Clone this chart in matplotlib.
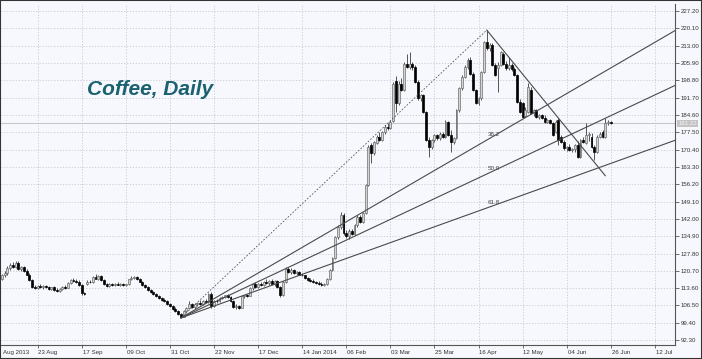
import matplotlib
matplotlib.use("Agg")
import matplotlib.pyplot as plt
from matplotlib.patches import Rectangle
from matplotlib.transforms import blended_transform_factory

plt.rcParams['font.family'] = ['Liberation Sans', 'DejaVu Sans']

# daily OHLC, Aug 2013 - 26 Jun 2014
opens = [
    117.5, 118.8, 119.8, 121.8, 123.0, 122.4, 124.0, 121.5, 122.2, 120.8,
    119.2, 117.0, 114.2, 113.8, 114.4, 114.0, 114.5, 114.0, 113.3, 113.9,
    112.9, 112.6, 113.4, 114.2, 113.8, 115.8, 117.0, 116.6, 116.2, 115.0,
    111.6, 115.5, 116.3, 116.0, 118.0, 117.5, 118.4, 117.0, 115.3, 114.6,
    115.2, 114.9, 115.5, 115.0, 115.3, 114.8, 115.2, 117.2, 117.8, 118.2,
    117.4, 116.3, 114.9, 114.1, 113.0, 112.0, 111.2, 110.2, 109.6, 108.8,
    108.2, 107.2, 106.4, 105.2, 104.3, 103.0, 101.9, 104.4, 105.6, 107.2,
    105.8, 107.0, 107.6, 107.2, 108.4, 108.0, 111.2, 106.2, 108.4, 108.2,
    109.6, 109.8, 110.6, 110.0, 108.2, 106.0, 106.4, 105.6, 110.2, 110.6,
    110.4, 113.6, 115.2, 114.2, 115.4, 114.8, 116.0, 115.8, 116.6, 115.2,
    116.4, 114.0, 110.8, 116.2, 121.6, 120.4, 121.2, 119.8, 120.2, 119.2,
    118.8, 117.8, 117.0, 116.6, 116.2, 115.8, 115.4, 115.0, 115.2, 117.4,
    121.0, 125.8, 134.4, 138.8, 143.8, 136.2, 134.8, 137.2, 136.0, 139.4,
    142.9, 140.9, 144.3, 155.9, 172.3, 168.9, 173.2, 175.7, 174.4, 177.6,
    179.8, 179.2, 182.0, 198.6, 189.5, 197.5, 195.0, 205.6, 204.4, 205.6,
    204.2, 198.2, 191.4, 192.6, 185.9, 174.3, 171.6, 174.3, 176.2, 175.0,
    177.0, 175.6, 181.6, 176.4, 173.4, 175.0, 186.6, 195.5, 200.3, 204.4,
    207.1, 201.6, 194.8, 189.5, 191.4, 202.3, 214.6, 212.0, 213.3, 205.1,
    203.8, 205.0, 209.8, 205.7, 203.8, 205.0, 203.4, 201.0, 190.1, 189.4,
    184.0, 186.0, 194.8, 185.3, 186.6, 183.9, 184.6, 183.2, 181.8, 182.5,
    181.2, 177.8, 182.5, 175.7, 173.6, 170.9, 171.6, 170.3, 170.8, 172.3,
    167.5, 174.3, 173.0, 176.4, 175.7, 171.6, 169.5, 175.7, 177.7, 175.7,
    181.2, 181.8,
]
highs = [
    119.5, 120.5, 122.5, 123.8, 124.5, 124.8, 124.6, 122.8, 122.8, 121.5,
    119.8, 117.5, 115.0, 114.8, 115.2, 114.8, 115.0, 114.6, 114.2, 114.4,
    113.5, 113.8, 114.6, 114.8, 116.2, 117.5, 117.8, 117.2, 116.8, 115.4,
    112.0, 116.8, 117.0, 118.5, 119.6, 118.8, 118.8, 117.4, 115.8, 115.6,
    115.8, 115.9, 116.0, 115.6, 115.8, 115.5, 117.5, 118.4, 118.6, 118.5,
    117.8, 116.6, 115.3, 114.5, 113.4, 112.5, 111.6, 110.6, 110.0, 109.4,
    108.6, 107.6, 106.8, 105.8, 104.8, 103.4, 104.8, 106.0, 108.2, 107.6,
    107.4, 108.0, 108.6, 108.8, 109.2, 111.6, 112.0, 108.8, 109.0, 110.0,
    110.4, 111.0, 111.2, 110.4, 108.6, 107.0, 106.8, 110.6, 111.0, 111.4,
    114.0, 115.8, 116.0, 115.8, 116.2, 116.4, 117.4, 117.0, 117.2, 116.8,
    116.8, 114.4, 116.6, 122.2, 122.4, 121.8, 121.6, 120.6, 120.8, 119.8,
    119.2, 118.2, 117.8, 117.2, 116.6, 116.4, 116.0, 115.6, 117.8, 121.6,
    126.2, 134.8, 139.5, 144.8, 144.6, 137.6, 137.8, 138.0, 139.8, 143.4,
    143.6, 144.8, 156.4, 172.2, 173.0, 174.0, 176.4, 177.6, 178.2, 180.4,
    181.2, 182.6, 198.0, 200.4, 198.5, 199.8, 206.2, 209.8, 210.5, 206.4,
    205.0, 198.8, 193.2, 193.4, 186.4, 175.6, 174.8, 176.8, 177.0, 177.6,
    177.8, 182.4, 182.2, 178.6, 175.6, 187.0, 196.0, 200.8, 205.0, 207.8,
    208.4, 202.2, 195.4, 192.0, 202.8, 215.0, 219.4, 214.0, 214.0, 206.0,
    206.2, 211.0, 210.4, 206.6, 208.5, 206.0, 204.4, 201.6, 191.0, 190.0,
    187.8, 197.6, 196.0, 187.2, 187.2, 185.2, 185.0, 184.4, 183.0, 183.0,
    181.8, 182.4, 183.2, 176.4, 174.2, 172.0, 172.8, 171.2, 172.6, 173.8,
    174.8, 175.4, 181.2, 177.6, 177.4, 172.4, 176.2, 177.6, 178.4, 183.2,
    182.6, 182.2,
]
lows = [
    116.8, 118.0, 119.2, 121.0, 122.0, 121.8, 121.0, 120.5, 120.2, 118.8,
    116.5, 113.8, 113.2, 113.2, 113.6, 113.4, 113.8, 113.0, 112.8, 112.6,
    112.0, 112.2, 113.0, 113.4, 113.5, 115.5, 116.2, 115.8, 114.5, 111.0,
    111.0, 115.0, 115.6, 115.8, 117.2, 117.0, 116.6, 115.0, 114.2, 114.2,
    114.6, 114.5, 114.8, 114.4, 114.6, 114.3, 115.0, 116.8, 117.2, 117.0,
    116.0, 114.6, 113.8, 112.6, 111.6, 110.8, 109.8, 109.2, 108.4, 107.8,
    106.8, 105.8, 104.8, 103.8, 102.6, 101.4, 101.6, 103.8, 105.0, 105.4,
    105.2, 106.2, 106.8, 106.8, 107.6, 107.6, 105.6, 105.8, 107.6, 107.8,
    109.0, 109.4, 109.6, 107.8, 105.6, 105.2, 105.2, 105.4, 109.6, 109.8,
    110.2, 113.0, 113.8, 113.8, 114.4, 114.4, 115.4, 115.0, 114.8, 114.6,
    113.6, 109.8, 110.4, 115.8, 119.8, 119.6, 119.4, 118.8, 118.8, 118.4,
    117.4, 116.6, 116.2, 115.8, 115.4, 115.0, 114.6, 114.4, 114.8, 117.0,
    120.6, 125.4, 133.6, 138.0, 135.6, 134.0, 133.8, 135.4, 135.6, 138.8,
    140.4, 140.4, 144.0, 155.4, 164.8, 168.2, 172.6, 173.8, 174.0, 176.8,
    178.4, 178.8, 181.6, 186.0, 188.6, 194.4, 194.6, 203.8, 203.6, 203.2,
    197.6, 190.8, 190.4, 185.4, 173.8, 167.5, 170.8, 173.6, 174.4, 174.4,
    175.2, 175.2, 176.0, 169.5, 172.8, 174.6, 186.0, 195.0, 199.6, 203.6,
    201.0, 194.4, 189.0, 188.8, 190.8, 201.8, 211.4, 211.0, 204.6, 200.6,
    194.0, 204.6, 205.2, 203.2, 203.2, 202.8, 200.6, 189.6, 185.4, 183.4,
    183.6, 185.4, 184.8, 184.2, 183.4, 182.8, 182.8, 181.4, 181.2, 180.8,
    175.8, 177.2, 172.2, 173.0, 170.4, 169.8, 169.8, 169.4, 169.6, 167.0,
    167.0, 173.0, 172.6, 174.0, 171.2, 166.1, 169.0, 175.0, 175.2, 175.2,
    180.6, 180.8,
]
closes = [
    118.8, 119.8, 121.8, 123.0, 122.4, 124.0, 121.5, 122.2, 120.8, 119.2,
    117.0, 114.2, 113.8, 114.4, 114.0, 114.5, 114.0, 113.3, 113.9, 112.9,
    112.6, 113.4, 114.2, 113.8, 115.8, 117.0, 116.6, 116.2, 115.0, 111.6,
    111.3, 116.3, 116.0, 118.0, 117.5, 118.4, 117.0, 115.3, 114.6, 115.2,
    114.9, 115.5, 115.0, 115.3, 114.8, 115.2, 117.2, 117.8, 118.2, 117.4,
    116.3, 114.9, 114.1, 113.0, 112.0, 111.2, 110.2, 109.6, 108.8, 108.2,
    107.2, 106.4, 105.2, 104.3, 103.0, 101.9, 104.4, 105.6, 107.2, 105.8,
    107.0, 107.6, 107.2, 108.4, 108.0, 111.2, 106.2, 108.4, 108.2, 109.6,
    109.8, 110.6, 110.0, 108.2, 106.0, 106.4, 105.6, 110.2, 110.6, 110.4,
    113.6, 115.2, 114.2, 115.4, 114.8, 116.0, 115.8, 116.6, 115.2, 116.4,
    114.0, 110.8, 116.2, 121.6, 120.4, 121.2, 119.8, 120.2, 119.2, 118.8,
    117.8, 117.0, 116.6, 116.2, 115.8, 115.4, 115.0, 115.2, 117.4, 121.0,
    125.8, 134.4, 138.8, 143.8, 136.2, 134.8, 137.2, 136.0, 139.4, 142.9,
    140.9, 144.3, 155.9, 171.6, 168.9, 173.6, 175.7, 174.4, 177.6, 179.8,
    179.2, 181.8, 197.5, 189.5, 197.5, 195.0, 205.6, 204.4, 205.6, 204.2,
    198.2, 191.4, 192.6, 185.9, 174.3, 171.6, 174.3, 176.2, 175.0, 177.0,
    175.6, 181.8, 176.4, 173.4, 175.0, 186.6, 195.5, 200.3, 204.4, 207.1,
    201.6, 194.8, 189.5, 191.4, 202.3, 214.6, 212.0, 213.3, 205.1, 201.0,
    205.0, 210.5, 205.7, 203.8, 205.0, 203.4, 201.0, 190.1, 186.0, 183.9,
    186.8, 196.2, 185.3, 186.6, 183.9, 184.6, 183.2, 181.8, 182.5, 181.2,
    176.4, 181.8, 174.3, 173.6, 170.9, 171.6, 170.3, 170.8, 172.3, 167.5,
    174.3, 173.6, 176.4, 177.0, 171.6, 169.5, 175.7, 177.0, 175.7, 181.2,
    181.8, 181.22,
]

# date labels every 16 bars; the first one only shows its month and year
tick_bars = [-3 + 16 * k for k in range(16)]
tick_labels = ['Aug 2013', '23 Aug', '17 Sep', '09 Oct', '31 Oct', '22 Nov',
               '17 Dec', '14 Jan 2014', '06 Feb', '03 Mar', '25 Mar', '16 Apr',
               '12 May', '04 Jun', '26 Jun', '12 Jul']
price_ticks = [92.30 + 7.1 * k for k in range(20)]

fib_levels = [38.2, 50.0, 61.8]
trend_end = (219, 159.7)   # end of the falling trendline drawn from the April top

bg = '#f7f8fd'
fig = plt.figure(figsize=(7.02, 3.59), dpi=100, facecolor=bg)
ax = fig.add_axes([1 / 702, 14 / 359, 674 / 702, 341 / 359], facecolor=bg)

n = len(closes)
xs = list(range(n))
x_left, x_right = -0.3, 244.3

# ticks first, limits after (set_ticks would widen the view otherwise)
ax.set_xticks(tick_bars[1:])
ax.set_yticks(price_ticks)
ax.set_xlim(x_left, x_right)
ax.set_ylim(90.3, 230.1)
ax.grid(True, color='#c6c8d2', linestyle=(0, (1.5, 2)), linewidth=0.6, zorder=0)

# last price line
ax.axhline(closes[-1], color='#c8c8c8', linewidth=0.8, zorder=1)

# candles
up = [c >= o for o, c in zip(opens, closes)]
ax.vlines(xs, lows, highs, color='#3a3a3a', linewidth=0.6, zorder=2)
bottoms = [min(o, c) for o, c in zip(opens, closes)]
heights = [max(abs(c - o), 0.25) for o, c in zip(opens, closes)]
ax.bar(xs, heights, bottom=bottoms, width=0.7,
       color=['#d4d4d4' if u else '#000000' for u in up],
       edgecolor=['#6e6e6e' if u else '#000000' for u in up],
       linewidth=0.5, zorder=3)

# fibonacci fan from the Nov low to the April high
i_lo = min(range(100), key=lambda i: lows[i])
i_hi = max(range(n), key=lambda i: highs[i])
p_lo, p_hi = lows[i_lo], highs[i_hi]
ax.plot([i_lo, i_hi], [p_lo, p_hi], color='#555555', linewidth=0.6,
        linestyle=(0, (2, 2)), zorder=4)
for lev in fib_levels:
    p = p_hi - lev / 100 * (p_hi - p_lo)
    slope = (p - p_lo) / (i_hi - i_lo)
    ax.plot([i_lo, x_right], [p_lo, p_lo + slope * (x_right - i_lo)],
            color='#4a4a4a', linewidth=0.8, zorder=4)
    ax.text(i_hi + 0.3, p + 1.3, '%.1f' % lev, fontsize=4.5, color='#444444',
            ha='left', va='bottom', zorder=5)

# falling trendline
ax.plot([i_hi, trend_end[0]], [p_hi, trend_end[1]], color='#4a4a4a',
        linewidth=0.8, zorder=4)

# axes styling
for s in ['top', 'left']:
    ax.spines[s].set_visible(False)
for s in ['right', 'bottom']:
    ax.spines[s].set_color('#555555')
    ax.spines[s].set_linewidth(0.8)
ax.yaxis.tick_right()
ax.set_yticklabels(['%.2f' % v for v in price_ticks])
ax.set_xticklabels([])
ax.tick_params(axis='y', length=3, width=0.6, color='#555555', pad=1,
               labelsize=4.4, labelcolor='#333333')
ax.tick_params(axis='x', length=2, width=0.6, color='#555555')

# date labels, left-aligned at their grid line (first one kept inside the frame)
tr = blended_transform_factory(ax.transData, ax.transAxes)
for b, lab in zip(tick_bars, tick_labels):
    ax.text(max(b + 0.3, 0.4), -0.022, lab, transform=tr, fontsize=4.4,
            color='#333333', ha='left', va='center', clip_on=False)

# current price box
ax.text(x_right + 1.2, closes[-1], '%.2f' % closes[-1], fontsize=4.4,
        color='#f4f4f4', ha='left', va='center', clip_on=False,
        bbox=dict(boxstyle='square,pad=0.2', facecolor='#c4c4c4',
                  edgecolor='none'), zorder=6)

fig.text(87 / 702, 1 - 95 / 359, 'Coffee, Daily', fontsize=15,
         fontweight='bold', fontstyle='italic', color='#1b6170',
         ha='left', va='baseline')

fig.patches.append(Rectangle((0, 0), 1, 1, transform=fig.transFigure,
                             fill=False, edgecolor='#333333', linewidth=1.5))

fig.savefig('out.png', dpi=100, facecolor=bg)
